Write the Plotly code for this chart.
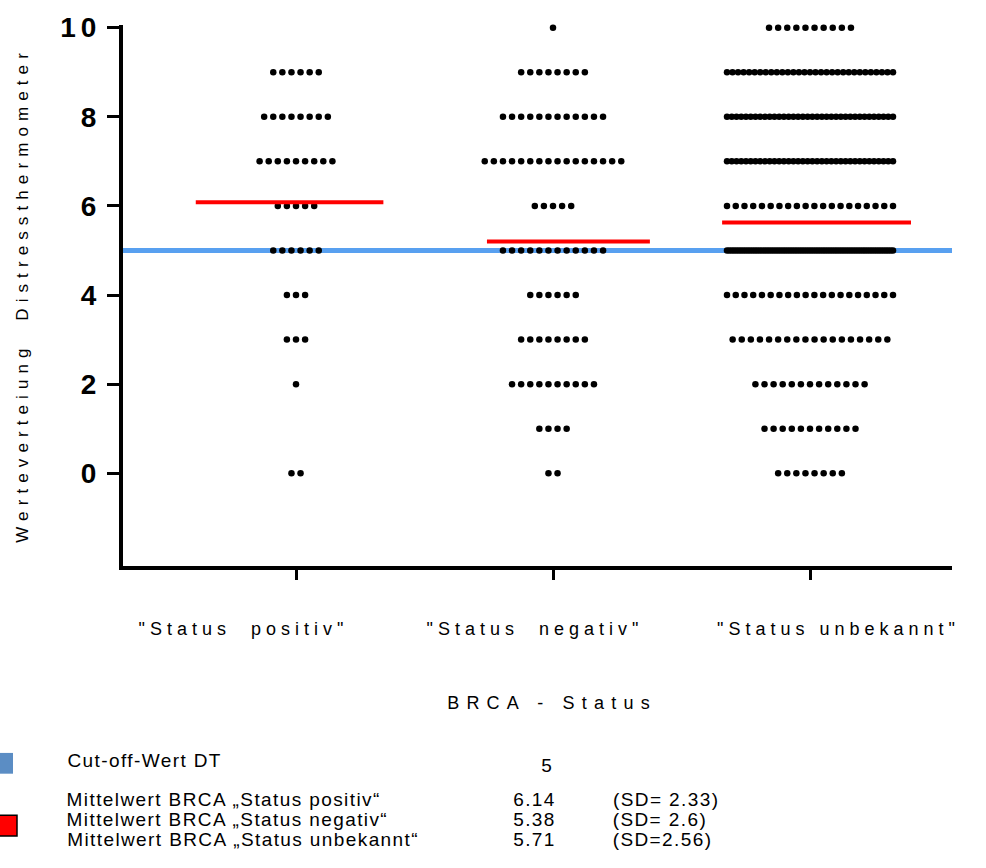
import json
import plotly.graph_objects as go

# ---------------- data ----------------
categories = ['"Status  positiv"', '"Status  negativ"', '"Status unbekannt"']
scores = [0, 1, 2, 3, 4, 5, 6, 7, 8, 9, 10]
counts_positiv = [2, 0, 1, 3, 3, 6, 5, 9, 8, 6, 0]
counts_negativ = [2, 4, 10, 8, 6, 12, 5, 16, 12, 8, 1]
counts_unbekannt = [8, 11, 13, 18, 20, 72, 20, 36, 36, 31, 10]
mean_lines = [6.08, 5.2, 5.63]          # red mean bars as drawn
cutoff_value = 5                         # blue cut-off line
y_tick_values = [0, 2, 4, 6, 8, 10]
legend_labels = ["Cut-off-Wert DT",
                 "Mittelwert BRCA „Status positiv“",
                 "Mittelwert BRCA „Status negativ“",
                 "Mittelwert BRCA „Status unbekannt“"]
legend_values = ["5", "6.14", "5.38", "5.71"]
legend_sd = ["", "(SD= 2.33)", "(SD= 2.6)", "(SD=2.56)"]

# ---------------- layout constants ----------------
W, H = 986, 868
ML, MR, MT, MB = 123, 34, 19, 302
PW, PH = W - ML - MR, H - MT - MB
CAT_PX = 257.0
X_RANGE = [-173 / CAT_PX, -173 / CAT_PX + PW / CAT_PX]
Y_RANGE = [-2.08, 10.06]
DOT_STEP = 9.1 / CAT_PX
DOT_MAX_SPAN = 166 / CAT_PX
MEAN_EXTENT = [(-0.39, 0.34), (-0.257, 0.377), (-0.342, 0.393)]
FONT = "Arial, Liberation Sans, sans-serif"
BLUE_LINE = "rgb(88,160,240)"
RED = "#ff0000"
LEG_SIZE = 19
LEG_SPACING = 1.4


def px_x(px):
    return (px - ML) / PW


def px_y(py):
    return (H - MB - py) / PH


fig = go.Figure()

# cut-off line (below dots)
fig.add_shape(type="line", xref="x", yref="y", x0=X_RANGE[0], x1=X_RANGE[1],
              y0=cutoff_value, y1=cutoff_value,
              line=dict(color=BLUE_LINE, width=5), layer="below")

# scatter dots, laid out as rows per score
for ci, counts in enumerate([counts_positiv, counts_negativ, counts_unbekannt]):
    xs, ys = [], []
    for s, n in zip(scores, counts):
        if n == 0:
            continue
        step = DOT_STEP if n == 1 else min(DOT_STEP, DOT_MAX_SPAN / (n - 1))
        for i in range(n):
            xs.append(ci + (i - (n - 1) / 2) * step)
            ys.append(s)
    fig.add_trace(go.Scatter(x=xs, y=ys, mode="markers", cliponaxis=False,
                             marker=dict(size=6.5, color="black", line=dict(width=0)),
                             showlegend=False, hoverinfo="skip"))

# mean bars
for ci, (m, (a, b)) in enumerate(zip(mean_lines, MEAN_EXTENT)):
    fig.add_trace(go.Scatter(x=[ci + a, ci + b], y=[m, m], mode="lines",
                             line=dict(color=RED, width=4), cliponaxis=False,
                             showlegend=False, hoverinfo="skip"))

annotations = []
spacing = {}

# category labels
cat_label_px = [243, 535, 838]
for ci, (lab, pxc) in enumerate(zip(categories, cat_label_px)):
    spacing[len(annotations)] = "5px"
    annotations.append(dict(text=lab, xref="paper", yref="paper",
                            x=px_x(pxc), y=px_y(630), xanchor="center", yanchor="middle",
                            showarrow=False, font=dict(family=FONT, size=18, color="black")))

# x title
spacing[len(annotations)] = "7.2px"
annotations.append(dict(text="BRCA - Status", xref="paper", yref="paper",
                        x=px_x(552), y=px_y(705), xanchor="center", yanchor="middle",
                        showarrow=False, font=dict(family=FONT, size=18, color="black")))

# y title
spacing[len(annotations)] = "6.1px"
annotations.append(dict(text="Werteverteiung  Distressthermometer", xref="paper", yref="paper",
                        x=px_x(22), y=px_y(292), xanchor="center", yanchor="middle",
                        textangle=-90, showarrow=False,
                        font=dict(family=FONT, size=17, color="black")))


def left_text(text, left_px, y_px):
    # letter spacing widens a centred text on both sides; compensate so the
    # visible left edge stays at left_px
    shift = len(text) * LEG_SPACING / 2
    spacing[len(annotations)] = "%spx" % LEG_SPACING
    annotations.append(dict(text=text, xref="paper", yref="paper",
                            x=px_x(left_px + shift), y=px_y(y_px),
                            xanchor="left", yanchor="middle", showarrow=False,
                            font=dict(family=FONT, size=LEG_SIZE, color="black")))


# legend block
row_y = [763, 802, 822, 843]
for i, (lab, val, sd) in enumerate(zip(legend_labels, legend_values, legend_sd)):
    left_text(lab, 65, row_y[i])
    if i == 0:
        left_text(val, 539, 768)
    else:
        left_text(val, 511, row_y[i])
    if sd:
        left_text(sd, 611, row_y[i])

# legend swatches
fig.add_shape(type="rect", xref="paper", yref="paper",
              x0=px_x(-6), x1=px_x(13), y0=px_y(755), y1=px_y(776),
              fillcolor="rgb(91,141,196)", line=dict(width=0))
fig.add_shape(type="rect", xref="paper", yref="paper",
              x0=px_x(-3), x1=px_x(17), y0=px_y(818), y1=px_y(839),
              fillcolor=RED, line=dict(color="black", width=1.5))

fig.update_layout(
    width=W, height=H,
    margin=dict(l=ML, r=MR, t=MT, b=MB, pad=0),
    plot_bgcolor="white", paper_bgcolor="white",
    annotations=annotations,
    xaxis=dict(range=X_RANGE, tickvals=[0, 1, 2], ticktext=["", "", ""],
               showgrid=False, zeroline=False, showline=True, linecolor="black", linewidth=4,
               ticks="outside", ticklen=10, tickwidth=3, tickcolor="black"),
    yaxis=dict(range=Y_RANGE, tickvals=y_tick_values,
               showgrid=False, zeroline=False, showline=True, linecolor="black", linewidth=4,
               ticks="outside", ticklen=12, tickwidth=3, tickcolor="black",
               tickfont=dict(family=FONT, size=28, color="black", weight="bold")),
)

post = """
document.documentElement.style.margin = '0';
document.documentElement.style.overflow = 'hidden';
document.body.style.margin = '0';
document.body.style.padding = '0';
document.body.style.overflow = 'hidden';
var gd = document.getElementById('{plot_id}');
var sp = %s;
function applySpacing(){
  gd.querySelectorAll('g.annotation').forEach(function(a){
    var idx = a.getAttribute('data-index');
    if (sp[idx] !== undefined){
      a.querySelectorAll('text').forEach(function(t){ t.style.letterSpacing = sp[idx]; });
    }
  });
  gd.querySelectorAll('.ytick text').forEach(function(t){ t.style.letterSpacing = '5px'; });
}
applySpacing();
""" % json.dumps({str(k): v for k, v in spacing.items()})

fig.write_html("out.html", post_script=post, config={"displayModeBar": False})
